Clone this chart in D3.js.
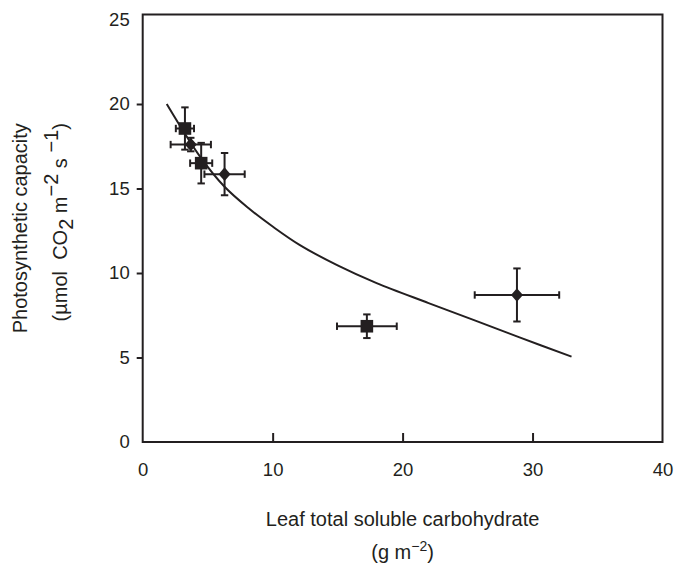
<!DOCTYPE html>
<html>
<head>
<meta charset="utf-8">
<script src="https://cdn.jsdelivr.net/npm/d3@7"></script>
<style>
  html, body { margin: 0; padding: 0; background: #fff; }
  svg text { font-family: "Liberation Sans", Arial, Helvetica, sans-serif; fill: #231f20; }
</style>
</head>
<body>
<svg id="chart" width="680" height="566"></svg>
<script>
// Axis ticks
const xTicks = [0, 10, 20, 30, 40];
const yTicks = [0, 5, 10, 15, 20, 25];

// Measured means with standard errors (carbohydrate, capacity)
const squares = [
  { x: 3.25, y: 18.55, xe: 0.7,  ye: 1.25 },
  { x: 4.5,  y: 16.5,  xe: 0.85, ye: 1.2 },
  { x: 17.25, y: 6.85, xe: 2.3,  ye: 0.7 }
];
const diamonds = [
  { x: 3.7,  y: 17.6, xe: 1.55, ye: 0.4 },
  { x: 6.3,  y: 15.85, xe: 1.55, ye: 1.25 },
  { x: 28.8, y: 8.7,  xe: 3.25, ye: 1.57 }
];

// Fitted response curve
const curveX = [1.85, 4.4, 6.3, 8.2, 10, 12.1, 15, 18, 22, 25.6, 29, 33];
const curveY = [20.0, 16.9, 15.1, 13.8, 12.75, 11.65, 10.45, 9.4, 8.22, 7.18, 6.19, 5.05];

const ink = "#231f20";
const svg = d3.select("#chart");

const x = d3.scaleLinear().domain([0, 40]).range([142.7, 662.5]);
const y = d3.scaleLinear().domain([0, 25]).range([442, 19.5]);

// Plot frame
svg.append("rect")
  .attr("x", x(0)).attr("y", y(25) - 5)
  .attr("width", x(40) - x(0)).attr("height", y(0) - y(25) + 5)
  .attr("fill", "none").attr("stroke", ink).attr("stroke-width", 2);

// Y axis: outward ticks
const yAxis = svg.append("g").attr("transform", `translate(${x(0)},0)`)
  .call(d3.axisLeft(y).tickValues(yTicks).tickSize(6).tickPadding(7).tickFormat(d3.format("d")));
yAxis.select(".domain").remove();
yAxis.selectAll(".tick line").attr("stroke", ink).attr("stroke-width", 2)
  .filter(d => d === 25 || d === 0).remove();
yAxis.selectAll(".tick text").attr("font-size", 18.5).attr("fill", ink);

// X axis: inward ticks
const xAxis = svg.append("g").attr("transform", `translate(0,${y(0)})`)
  .call(d3.axisBottom(x).tickValues(xTicks).tickSize(0).tickPadding(21).tickFormat(d3.format("d")));
xAxis.select(".domain").remove();
xAxis.selectAll(".tick text").attr("font-size", 18.5).attr("fill", ink);
xAxis.selectAll(".tick").filter(d => d > 0 && d < 40).append("line")
  .attr("y1", 0).attr("y2", -9).attr("stroke", ink).attr("stroke-width", 2);

// Curve
const curveData = curveX.map((v, i) => [v, curveY[i]]);
svg.append("path")
  .datum(curveData)
  .attr("d", d3.line().x(d => x(d[0])).y(d => y(d[1])).curve(d3.curveCatmullRom.alpha(0.5)))
  .attr("fill", "none").attr("stroke", ink).attr("stroke-width", 2);

// Error bars
const cap = 3.7;
function errorBars(data) {
  const g = svg.append("g").attr("stroke", ink).attr("stroke-width", 2).attr("fill", "none");
  data.forEach(d => {
    const cx = x(d.x), cy = y(d.y);
    const x0 = x(d.x - d.xe), x1 = x(d.x + d.xe);
    const y0 = y(d.y - d.ye), y1 = y(d.y + d.ye);
    g.append("line").attr("x1", x0).attr("x2", x1).attr("y1", cy).attr("y2", cy);
    g.append("line").attr("x1", x0).attr("x2", x0).attr("y1", cy - cap).attr("y2", cy + cap);
    g.append("line").attr("x1", x1).attr("x2", x1).attr("y1", cy - cap).attr("y2", cy + cap);
    g.append("line").attr("x1", cx).attr("x2", cx).attr("y1", y0).attr("y2", y1);
    g.append("line").attr("x1", cx - cap).attr("x2", cx + cap).attr("y1", y0).attr("y2", y0);
    g.append("line").attr("x1", cx - cap).attr("x2", cx + cap).attr("y1", y1).attr("y2", y1);
  });
}
errorBars(squares);
errorBars(diamonds);

// Markers
svg.append("g").selectAll("rect").data(squares).join("rect")
  .attr("x", d => x(d.x) - 6.3).attr("y", d => y(d.y) - 6.3)
  .attr("width", 12.6).attr("height", 12.6).attr("fill", ink);
svg.append("g").selectAll("path").data(diamonds).join("path")
  .attr("transform", d => `translate(${x(d.x)},${y(d.y)})`)
  .attr("d", "M0,-6.8L6,0L0,6.8L-6,0Z").attr("fill", ink);

// Axis titles
const xt = svg.append("text").attr("x", x(20)).attr("y", 526)
  .attr("text-anchor", "middle").attr("font-size", 20);
xt.text("Leaf total soluble carbohydrate");
const xt2 = svg.append("text").attr("x", x(20)).attr("y", 559)
  .attr("text-anchor", "middle").attr("font-size", 20);
xt2.append("tspan").text("(g m");
xt2.append("tspan").attr("font-size", 14).attr("dy", -8).text("−2");
xt2.append("tspan").attr("dy", 8).text(")");

const midY = (y(0) + y(25) - 5) / 2;
svg.append("text").attr("transform", `translate(27,${midY}) rotate(-90)`)
  .attr("text-anchor", "middle").attr("font-size", 20)
  .text("Photosynthetic capacity");
const yt2 = svg.append("text").attr("transform", `translate(67,${midY - 6}) rotate(-90)`)
  .attr("text-anchor", "middle").attr("font-size", 20).attr("xml:space", "preserve");
yt2.append("tspan").text("(µmol  CO");
yt2.append("tspan").attr("dy", 6).text("2");
yt2.append("tspan").attr("dy", -6).text(" m");
yt2.append("tspan").attr("dy", -9).text("−2");
yt2.append("tspan").attr("dy", 9).text(" s");
yt2.append("tspan").attr("dy", -9).text(" −1");
yt2.append("tspan").attr("dy", 9).text(")");
</script>
</body>
</html>
